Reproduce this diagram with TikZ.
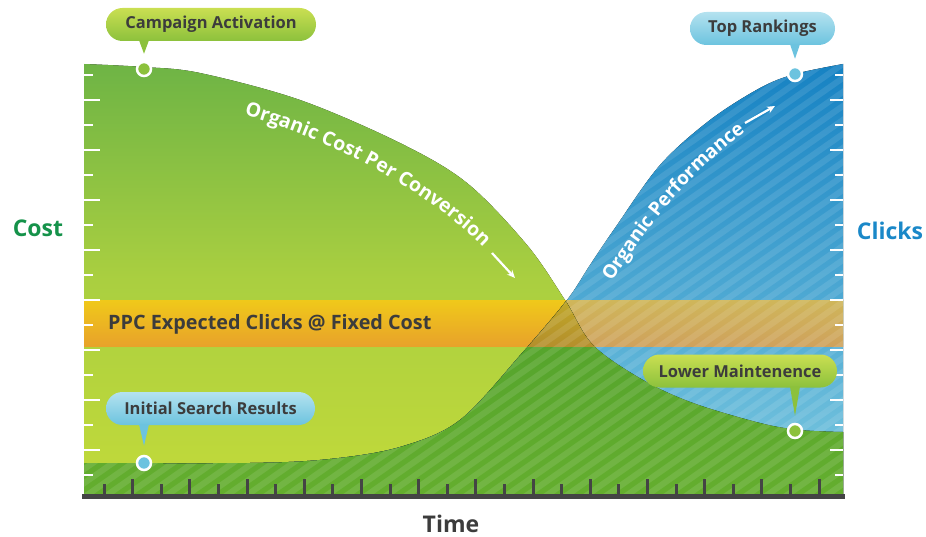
\documentclass[tikz,border=0pt]{standalone}
\usepackage{fontspec}
\setsansfont{Open Sans}
\usetikzlibrary{decorations.text,positioning,arrows.meta}

\definecolor{leaftop}{HTML}{6EB445}
\definecolor{leafmid}{HTML}{AACF40}
\definecolor{leafbot}{HTML}{C2DA3A}
\definecolor{skytop}{HTML}{1682C3}
\definecolor{skybot}{HTML}{7CC9E0}
\definecolor{mosstop}{HTML}{3A9229}
\definecolor{mossbot}{HTML}{64AE2E}
\definecolor{bandtop}{HTML}{F0C91A}
\definecolor{bandbot}{HTML}{E8A22A}
\definecolor{tantop}{HTML}{CFB65A}
\definecolor{tanbot}{HTML}{CFA25C}
\definecolor{olivetop}{HTML}{C0A828}
\definecolor{olivebot}{HTML}{B48F2C}
\definecolor{inkgray}{HTML}{3C3C3C}
\definecolor{axisgray}{HTML}{444444}
\definecolor{costgreen}{HTML}{15924A}
\definecolor{clickblue}{HTML}{1A88C8}
\definecolor{limetop}{HTML}{CADF52}
\definecolor{limebot}{HTML}{8CC13C}
\definecolor{paletop}{HTML}{B4E2EF}
\definecolor{palebot}{HTML}{6CC3DF}

\newcommand\costcurve{plot[smooth,tension=.55] coordinates {(84,64) (144,67) (200,73) (300,100) (400,143) (467,183) (527,245) (565,300) (593,345) (643,380) (693,403) (760,423) (800,430) (843,432)}}
\newcommand\clickcurve{plot[smooth,tension=.55] coordinates {(84,463) (250,463) (330,459) (400,447) (460,420) (523,352) (567,300) (590,265) (615,228) (660,165) (710,120) (760,88) (795,74) (843,64)}}

\begin{document}
\begin{tikzpicture}[x=1pt,y=-1pt,
  every node/.style={font=\sffamily\bfseries, inner sep=0pt},
  callout/.style={rounded corners=16.5pt, minimum height=33pt,
    text=inkgray, font=\sffamily\bfseries\fontsize{16.5}{16.5}\selectfont},
  greenbox/.style={callout, top color=limetop, bottom color=limebot},
  bluebox/.style={callout, top color=paletop, bottom color=palebot},
  pindot/.style={circle, draw=white, line width=2.5pt, minimum size=14pt},
  stripe/.style={white, opacity=.1, line width=6pt},
  sidetick/.style={white, line width=2.5pt},
  axistick/.style={axisgray, line width=3pt},
  whitearrow/.style={-{Stealth[length=8pt,width=7pt]}, white, line width=2.2pt}]
  \useasboundingbox (0,0) rectangle (926,537);
  \fill[top color=leaftop, bottom color=leafbot, middle color=leafmid] \costcurve -- (843,494) -- (84,494) -- cycle;
  \fill[top color=bandtop, bottom color=bandbot] (84,300) rectangle (843,346);
  \begin{scope}
    \clip \clickcurve -- (843,494) -- (84,494) -- cycle;
    \fill[top color=skytop, bottom color=skybot] \clickcurve -- (843,494) -- (84,494) -- cycle;
    \fill[top color=tantop, bottom color=tanbot] (84,300) rectangle (843,346);
    \begin{scope}
      \clip \costcurve -- (843,494) -- (84,494) -- cycle;
      \fill[top color=mosstop, bottom color=mossbot] \clickcurve -- (843,494) -- (84,494) -- cycle;
      \fill[top color=olivetop, bottom color=olivebot] (84,300) rectangle (843,346);
    \end{scope}
    \foreach \s in {-32,...,42}
      \draw[stripe] (\s*20,500) -- ++(700,-490);
  \end{scope}
  \node[anchor=west, text=inkgray, font=\sffamily\bfseries\fontsize{19.8}{19.8}\selectfont] (ppclabel) at (108,324) {PPC Expected Clicks @ Fixed Cost};
  \foreach \y in {75,125,...,475} {
    \draw[sidetick] (84,\y) -- ++(9,0);
    \draw[sidetick] (843,\y) -- ++(-8,0);
  }
  \foreach \y in {100,150,...,450} {
    \draw[sidetick] (84,\y) -- ++(16,0);
    \draw[sidetick] (843,\y) -- ++(-13,0);
  }
  \draw[axisgray, line width=5pt] (82,496) -- (845,496);
  \foreach \i in {0,...,12} {
    \draw[axistick] ({104+57.2*\i},494) -- ++(0,-10);
    \draw[axistick] ({132.6+57.2*\i},494) -- ++(0,-15);
  }
  \path[decorate, decoration={text along path, text color=white, text align=left,
    text={|\sffamily\bfseries\fontsize{19.5}{19.5}\selectfont|Organic Cost Per Conversion}}]
    (244,115) .. controls (330,140) and (430,190) .. (490,254) -- (560,340);
  \path[decorate, decoration={text along path, text color=white, text align=left,
    text={|\sffamily\bfseries\fontsize{19}{19}\selectfont|Organic Performance}}]
    (612,282) .. controls (655,215) and (695,165) .. (765,118) -- (860,60);
  \coordinate (costtail) at (492,253);
  \coordinate (costhead) at (515,278);
  \coordinate (perftail) at (745,123);
  \coordinate (perfhead) at (775,106);
  \draw[whitearrow] (costtail) -- (costhead);
  \draw[whitearrow] (perftail) -- (perfhead);
  \node[text=costgreen, font=\sffamily\bfseries\fontsize{23}{23}\selectfont] (costlabel) at (38,228) {Cost};
  \node[text=clickblue, font=\sffamily\bfseries\fontsize{23}{23}\selectfont] (clicklabel) at (890,231) {Clicks};
  \node[text=inkgray, font=\sffamily\bfseries\fontsize{23}{23}\selectfont] (timelabel) at (451,524) {Time};
  \node[pindot, fill=limebot] (campaigndot) at (144,69) {};
  \node[pindot, fill=palebot] (topdot) at (795,74) {};
  \node[pindot, fill=limebot] (lowdot) at (795,431) {};
  \node[pindot, fill=palebot] (initdot) at (144,463) {};
  \node[greenbox, minimum width=210pt] (campaign) at (211,24.5) {Campaign Activation};
  \node[bluebox, minimum width=145pt] (toprank) at (762.5,28.5) {Top Rankings};
  \node[greenbox, minimum width=194pt] (lowmaint) at (740,371) {Lower Maintenence};
  \node[bluebox, minimum width=209pt] (initsearch) at (210.5,408.5) {Initial Search Results};
  \fill[limebot] ([xshift=-5pt,yshift=1pt]campaign.south -| campaigndot) -- ([xshift=5pt,yshift=1pt]campaign.south -| campaigndot) -- ([yshift=7pt]campaigndot.north) -- cycle;
  \fill[palebot] ([xshift=-5pt,yshift=1pt]toprank.south -| topdot) -- ([xshift=5pt,yshift=1pt]toprank.south -| topdot) -- ([yshift=7pt]topdot.north) -- cycle;
  \fill[limebot] ([xshift=-5pt,yshift=1pt]lowmaint.south -| lowdot) -- ([xshift=5pt,yshift=1pt]lowmaint.south -| lowdot) -- ([yshift=7pt]lowdot.north) -- cycle;
  \fill[palebot] ([xshift=-5pt,yshift=1pt]initsearch.south -| initdot) -- ([xshift=5pt,yshift=1pt]initsearch.south -| initdot) -- ([yshift=9pt]initdot.north) -- cycle;
\end{tikzpicture}
\end{document}
